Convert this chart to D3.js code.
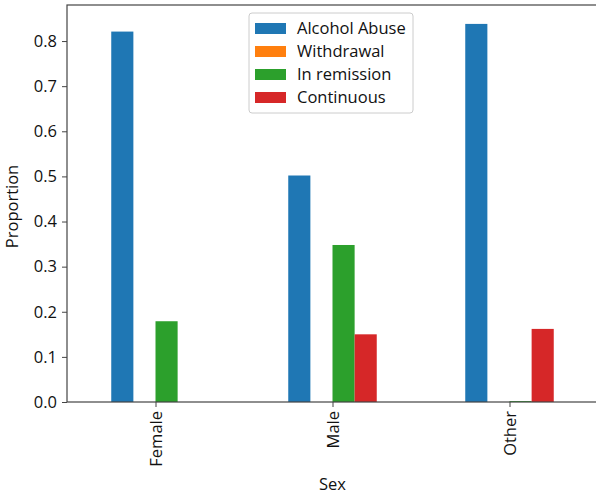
<!DOCTYPE html>
<html><head><meta charset="utf-8">
<script src="https://cdn.jsdelivr.net/npm/d3@7"></script>
<style>body{margin:0;background:#fff}svg{display:block}text{font-family:"Open Sans",sans-serif;fill:#111}</style>
</head><body><svg id="c" width="596" height="496"></svg>
<script>
const categories = ["Female", "Male", "Other"];
const seriesNames = ["Alcohol Abuse", "Withdrawal", "In remission", "Continuous"];
const alcoholAbuse = [0.821, 0.502, 0.838];
const withdrawal = [0, 0, 0];
const inRemission = [0.179, 0.348, 0.002];
const continuous = [0, 0.150, 0.162];
const colors = ["#1f77b4", "#ff7f0e", "#2ca02c", "#d62728"];
const yTicks = [0, 0.1, 0.2, 0.3, 0.4, 0.5, 0.6, 0.7, 0.8];

(function () {
const series = [alcoholAbuse, withdrawal, inRemission, continuous];
const svg = d3.select("#c");
const mLeft = 67, mRight = 598, mTop = 5, mBottom = 402;
const fs = "16.5px";
const yMax = d3.max(series.flat()) * 1.05;
const x = d3.scaleLinear().domain([-0.5, categories.length - 0.5]).range([mLeft, mRight]);
const y = d3.scaleLinear().domain([0, yMax]).range([mBottom, mTop]);
const bw = 0.5 / series.length;

series.forEach((vals, si) => {
  svg.append("g").selectAll("rect").data(vals).join("rect")
    .attr("x", (d, i) => x(i - 0.25 + si * bw))
    .attr("width", x(bw) - x(0))
    .attr("y", d => y(d))
    .attr("height", d => y(0) - y(d))
    .attr("fill", colors[si]);
});

const yAxis = svg.append("g").attr("transform", `translate(${mLeft},0)`)
  .call(d3.axisLeft(y).tickValues(yTicks).tickFormat(d3.format(".1f")).tickSize(5).tickPadding(5));
const xAxis = svg.append("g").attr("transform", `translate(0,${mBottom})`)
  .call(d3.axisBottom(x).tickValues(d3.range(categories.length)).tickFormat(i => categories[i]).tickSize(5));
[yAxis, xAxis].forEach(a => {
  a.selectAll("text").style("font-size", fs).attr("fill", "#111");
  a.selectAll("line").attr("stroke", "#444");
  a.select(".domain").remove();
});
xAxis.selectAll("text").attr("transform", "rotate(-90)").attr("text-anchor", "end")
  .attr("x", -9).attr("y", 0).attr("dy", "0.35em");

svg.append("rect").attr("x", mLeft).attr("y", mTop).attr("width", mRight - mLeft).attr("height", mBottom - mTop)
  .attr("fill", "none").attr("stroke", "#444").attr("stroke-width", 1.2);

svg.append("text").attr("transform", `translate(18,${(mTop + mBottom) / 2 + 3}) rotate(-90)`)
  .attr("text-anchor", "middle").style("font-size", fs).text("Proportion");
svg.append("text").attr("x", x(1)).attr("y", 490).attr("text-anchor", "middle")
  .style("font-size", fs).text("Sex");

const lg = svg.append("g").attr("transform", "translate(249,13)");
lg.append("rect").attr("width", 164).attr("height", 100).attr("rx", 3)
  .attr("fill", "#fff").attr("stroke", "#ccc");
seriesNames.forEach((n, i) => {
  const g = lg.append("g").attr("transform", `translate(6,${15 + i * 23})`);
  g.append("rect").attr("x", 0).attr("y", -5).attr("width", 31).attr("height", 11).attr("fill", colors[i]);
  g.append("text").attr("x", 42).attr("y", 0).attr("dy", "0.35em").style("font-size", fs).text(n);
});
})();
</script></body></html>
